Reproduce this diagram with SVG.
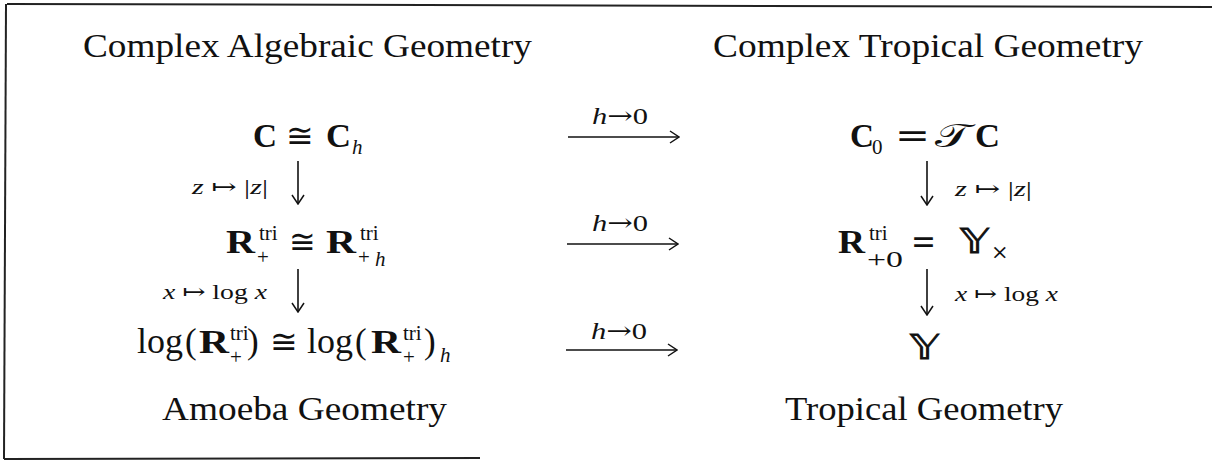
<svg xmlns="http://www.w3.org/2000/svg" width="1212" height="461" viewBox="0 0 1212 461">
<defs>
<style>
text{font-family:"Liberation Serif","DejaVu Serif",serif;fill:#111}
.t{font-size:33px}
.m{font-size:33px}
.b{font-weight:700}
.i{font-style:italic}
.s{font-size:21px}
.lab{font-size:21px}
.hl{font-size:24px}
.sym{font-family:"DejaVu Serif","Liberation Serif",serif}
.bb{font-family:"DejaVu Sans","DejaVu Serif","Noto Sans",sans-serif}
.yy{stroke:#111;stroke-width:0.9}
.ln{stroke:#111;stroke-width:1.6;fill:none}
.fr{stroke:#222;stroke-width:2;fill:none}
</style>
<marker id="ah" viewBox="0 0 12 14" refX="11" refY="7" markerWidth="12" markerHeight="14" markerUnits="userSpaceOnUse" orient="auto">
<path d="M2,1 L11,7 L2,13" stroke="#111" stroke-width="1.5" fill="none"/>
</marker>
</defs>
<rect width="1212" height="461" fill="#fff"/>
<g id="frame">
<path class="fr" d="M7,4 L1212,7"/>
<path class="fr" d="M6,4 L4,459"/>
<path class="fr" d="M4,459 L480,458"/>
</g>
<g id="title-cag"><text class="t" x="83" y="57" textLength="449" lengthAdjust="spacingAndGlyphs">Complex Algebraic Geometry</text></g>
<g id="title-ctg"><text class="t" x="713" y="57" textLength="430" lengthAdjust="spacingAndGlyphs">Complex Tropical Geometry</text></g>
<g id="title-amoeba"><text class="t" x="162" y="420" textLength="285" lengthAdjust="spacingAndGlyphs">Amoeba Geometry</text></g>
<g id="title-trop"><text class="t" x="785" y="420" textLength="278" lengthAdjust="spacingAndGlyphs">Tropical Geometry</text></g>
<g id="node-c-h">
<text class="m b" x="253" y="147" textLength="24" lengthAdjust="spacingAndGlyphs">C</text>
<text class="m sym" x="286" y="147" textLength="28" lengthAdjust="spacingAndGlyphs">≅</text>
<text class="m b" x="326" y="147" textLength="25" lengthAdjust="spacingAndGlyphs">C</text>
<text class="s i" x="352" y="154">h</text>
</g>
<g id="node-c0">
<text class="m b" x="850" y="147" textLength="24" lengthAdjust="spacingAndGlyphs">C</text>
<text class="s" x="872" y="154">0</text>
<text class="m sym" x="895" y="147" textLength="35" lengthAdjust="spacingAndGlyphs">=</text>
<text class="m bb" x="935" y="147" textLength="35" lengthAdjust="spacingAndGlyphs">𝒯</text>
<text class="m b" x="975" y="147" textLength="25" lengthAdjust="spacingAndGlyphs">C</text>
</g>
<g id="node-rtri-h">
<text class="m b" x="226" y="253" textLength="29" lengthAdjust="spacingAndGlyphs">R</text>
<text class="s" x="259" y="240">tri</text>
<text class="s" x="257" y="264">+</text>
<text class="m sym" x="289" y="253" textLength="27" lengthAdjust="spacingAndGlyphs">≅</text>
<text class="m b" x="326" y="253" textLength="30" lengthAdjust="spacingAndGlyphs">R</text>
<text class="s" x="360" y="240">tri</text>
<text class="s" x="358" y="264">+</text>
<text class="s i" x="375" y="266">h</text>
</g>
<g id="node-rtri-0">
<text class="m b" x="838" y="253" textLength="27" lengthAdjust="spacingAndGlyphs">R</text>
<text class="s" x="869" y="240">tri</text>
<text class="s" x="867" y="267" style="font-size:23px" textLength="36" lengthAdjust="spacingAndGlyphs">+0</text>
<text class="m sym" x="911" y="253" textLength="25" lengthAdjust="spacingAndGlyphs">=</text>
<text class="m bb yy" x="960" y="253" textLength="29" lengthAdjust="spacingAndGlyphs">𝕐</text>
<text class="s sym" x="991" y="259">×</text>
</g>
<g id="node-log">
<text class="m" x="137" y="353" style="font-size:35px" textLength="46" lengthAdjust="spacingAndGlyphs">log</text>
<text class="m" x="185" y="353" style="font-size:35px">(</text>
<text class="m b" x="199" y="353" textLength="30" lengthAdjust="spacingAndGlyphs">R</text>
<text class="s" x="230" y="340">tri</text>
<text class="s" x="230" y="364">+</text>
<text class="m" x="247" y="353" style="font-size:35px">)</text>
<text class="m sym" x="270" y="353" textLength="28" lengthAdjust="spacingAndGlyphs">≅</text>
<text class="m" x="307" y="353" style="font-size:35px" textLength="46" lengthAdjust="spacingAndGlyphs">log</text>
<text class="m" x="355" y="353" style="font-size:35px">(</text>
<text class="m b" x="371" y="353" textLength="30" lengthAdjust="spacingAndGlyphs">R</text>
<text class="s" x="403" y="340">tri</text>
<text class="s" x="403" y="364">+</text>
<text class="m" x="424" y="353" style="font-size:35px">)</text>
<text class="s i" x="440" y="362">h</text>
</g>
<g id="node-y">
<text class="m bb yy" x="910" y="359" style="font-size:34px" textLength="29" lengthAdjust="spacingAndGlyphs">𝕐</text>
</g>
<g id="connectors">
<path class="ln" d="M568,137 H679" marker-end="url(#ah)"/>
<path class="ln" d="M567,244 H678" marker-end="url(#ah)"/>
<path class="ln" d="M566,350 H677" marker-end="url(#ah)"/>
<path class="ln" d="M298,161 V204" marker-end="url(#ah)"/>
<path class="ln" d="M298,269 V312" marker-end="url(#ah)"/>
<path class="ln" d="M927,161 V205" marker-end="url(#ah)"/>
<path class="ln" d="M927,269 V315" marker-end="url(#ah)"/>
<g class="lbl">
<text class="hl" x="592" y="124" textLength="56" lengthAdjust="spacingAndGlyphs"><tspan class="i">h</tspan><tspan class="sym">→</tspan>0</text>
<text class="hl" x="592" y="231" textLength="56" lengthAdjust="spacingAndGlyphs"><tspan class="i">h</tspan><tspan class="sym">→</tspan>0</text>
<text class="hl" x="591" y="339" textLength="56" lengthAdjust="spacingAndGlyphs"><tspan class="i">h</tspan><tspan class="sym">→</tspan>0</text>
<text class="lab" x="192" y="194" textLength="76" lengthAdjust="spacingAndGlyphs"><tspan class="i">z</tspan> <tspan class="sym">↦</tspan> |<tspan class="i">z</tspan>|</text>
<text class="lab" x="955" y="196" textLength="77" lengthAdjust="spacingAndGlyphs"><tspan class="i">z</tspan> <tspan class="sym">↦</tspan> |<tspan class="i">z</tspan>|</text>
<text class="lab" x="163" y="299" textLength="104" lengthAdjust="spacingAndGlyphs"><tspan class="i">x</tspan> <tspan class="sym">↦</tspan> log <tspan class="i">x</tspan></text>
<text class="lab" x="955" y="301" textLength="103" lengthAdjust="spacingAndGlyphs"><tspan class="i">x</tspan> <tspan class="sym">↦</tspan> log <tspan class="i">x</tspan></text>
</g>
</g>
</svg>
